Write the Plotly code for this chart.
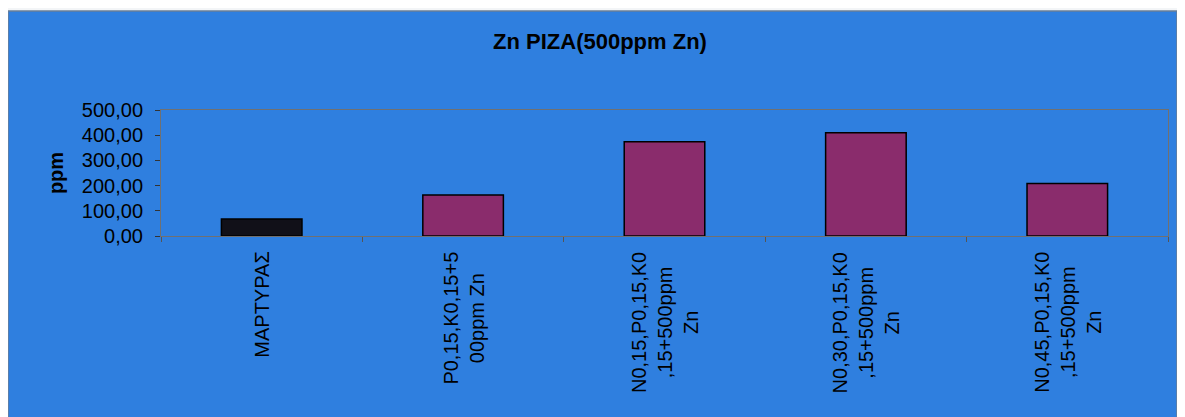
import plotly.graph_objects as go

categories = [
    "ΜΑΡΤΥΡΑΣ",
    "P0,15,K0,15+5<br>00ppm Zn",
    "N0,15,P0,15,K0<br>,15+500ppm<br>Zn",
    "N0,30,P0,15,K0<br>,15+500ppm<br>Zn",
    "N0,45,P0,15,K0<br>,15+500ppm<br>Zn",
]
values = [67, 163, 374, 410, 208]
bar_colors = ["#111018", "#8a2c6c", "#8a2c6c", "#8a2c6c", "#8a2c6c"]
y_ticks = [0, 100, 200, 300, 400, 500]

# figure is offset by the page's 8px body margin
W, H = 1177, 409
L, R, T, B = 153, 1160, 102, 228
pw, ph = R - L, B - T

fig = go.Figure()
fig.add_trace(go.Bar(
    x=categories, y=values,
    marker=dict(color=bar_colors, line=dict(color="#000000", width=1.5)),
    width=0.4,
))

# blue chart panel
fig.add_shape(type="rect", xref="paper", yref="paper", layer="below",
              x0=(0 - L) / pw, x1=(1169 - L) / pw,
              y0=(B - 430) / ph, y1=(B - 3) / ph,
              fillcolor="#2f7fdf", line=dict(color="#6a7f98", width=1.5))

# category labels (rotated, centred lines)
for c in categories:
    fig.add_annotation(x=c, xref="x", y=-14 / ph, yref="paper",
                       text=c, textangle=-90, showarrow=False,
                       xanchor="center", yanchor="top", align="center",
                       font=dict(size=20, family="Liberation Sans, Arial", color="#000000"))

fig.update_layout(
    width=W, height=H,
    margin=dict(l=L, r=W - R, t=T, b=H - B),
    paper_bgcolor="#f3f5f7",
    plot_bgcolor="#c9ddf7",
    separators=",.",
    showlegend=False,
    font=dict(family="Liberation Sans, Arial, sans-serif", color="#000000"),
    title=dict(text="<b>Zn PIZA(500ppm Zn)</b>", x=592 / W, xanchor="center",
               y=1 - 33 / H, yanchor="middle",
               font=dict(size=22, family="Liberation Sans, Arial")),
)
fig.update_yaxes(
    range=[0, 500], tickvals=y_ticks, tickformat=".2f",
    ticks="outside", ticklen=5, tickcolor="#333333", ticklabelstandoff=8,
    showgrid=False, zeroline=False,
    showline=True, linecolor="#707070", linewidth=1, mirror=True,
    tickfont=dict(size=20),
    title=dict(text="<b>ppm</b>", font=dict(size=20), standoff=12),
)
fig.update_xaxes(
    ticks="outside", ticklen=5, tickcolor="#555555",
    tickson="boundaries", showticklabels=False,
    showline=True, linecolor="#707070", linewidth=1, mirror=True,
)

fig.write_html("out.html")
